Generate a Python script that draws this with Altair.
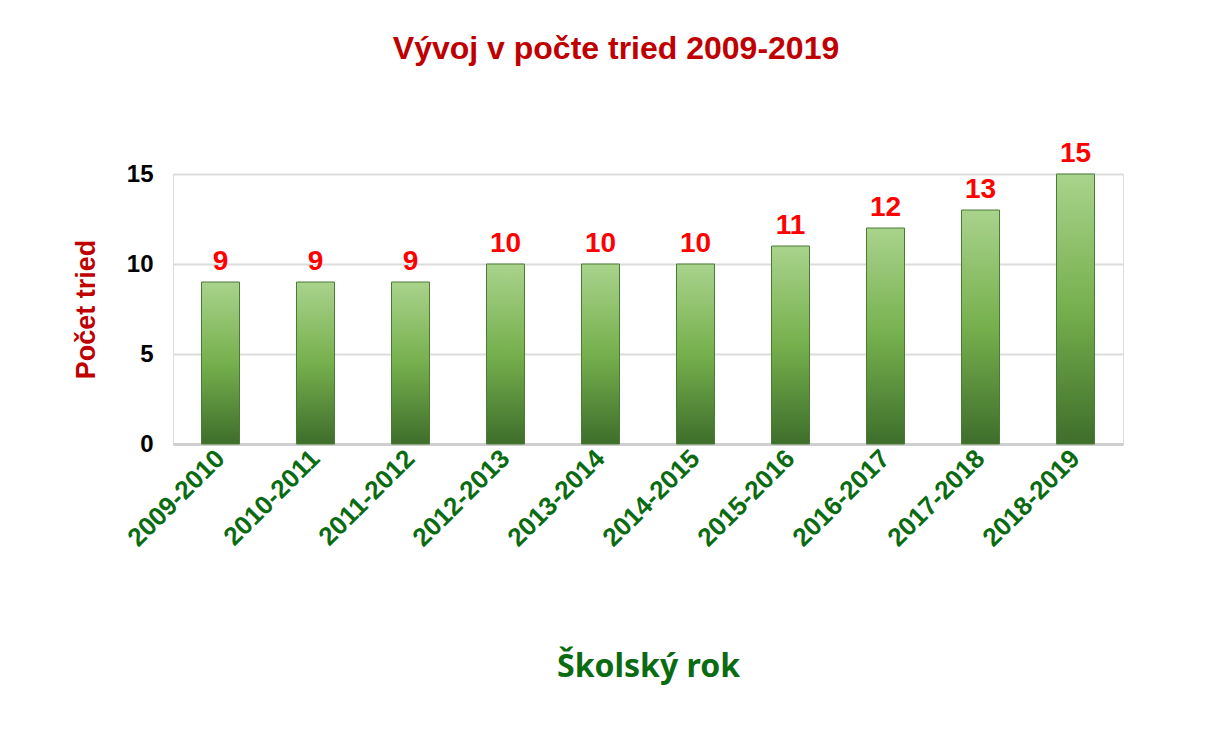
import altair as alt
import pandas as pd

years = ["2009-2010", "2010-2011", "2011-2012", "2012-2013", "2013-2014",
         "2014-2015", "2015-2016", "2016-2017", "2017-2018", "2018-2019"]
classes = [9, 9, 9, 10, 10, 10, 11, 12, 13, 15]
y_ticks = [0, 5, 10, 15]

df = pd.DataFrame({"rok": years, "tried": classes})

gradient = alt.Gradient(
    gradient="linear", x1=0, y1=0, x2=0, y2=1,
    stops=[alt.GradientStop(offset=0, color="#a9d38c"),
           alt.GradientStop(offset=0.5, color="#76b04d"),
           alt.GradientStop(offset=1, color="#3e6e2b")],
)

x_enc = alt.X("rok:N", sort=years, title="Školský rok",
              scale=alt.Scale(paddingInner=0.6, paddingOuter=0.3),
              axis=alt.Axis(labelAngle=-45, labelAlign="right", labelBaseline="middle",
                            labelColor="#0a6b12", labelFontSize=26, labelFontWeight="bold",
                            labelFont="Liberation Sans", labelPadding=10,
                            ticks=False, domain=True, domainColor="#cfcfcf", domainWidth=3,
                            titleColor="#0a6b12", titleFontSize=32, titleFontWeight="bold",
                            titleFont="Noto Sans", titlePadding=100))

y_enc = alt.Y("tried:Q", title="Počet tried",
              scale=alt.Scale(domain=[0, 15], nice=False),
              axis=alt.Axis(values=y_ticks, labelColor="#000000", labelFontSize=24,
                            labelFontWeight="bold", labelFont="Liberation Sans",
                            labelPadding=20, ticks=False, domain=False,
                            gridColor="#dcdcdc", gridWidth=2,
                            titleColor="#c00000", titleFontSize=27, titleFontWeight="bold",
                            titleFont="Liberation Sans", titlePadding=26))

bars = alt.Chart(df).mark_bar(fill=gradient, stroke="#4a7a34", strokeWidth=1).encode(
    x=x_enc, y=y_enc)

labels = alt.Chart(df).mark_text(dy=-20, color="#ff0000", fontSize=28, fontWeight="bold",
                                 font="Liberation Sans").encode(
    x=alt.X("rok:N", sort=years), y="tried:Q", text="tried:Q")

chart = (bars + labels).properties(
    width=950, height=270,
    autosize=alt.AutoSizeParams(type="none"),
    padding={"left": 165, "top": 166, "right": 75, "bottom": 295},
    title=alt.TitleParams("Vývoj v počte tried 2009-2019", color="#c00000", fontSize=32,
                          fontWeight="bold", font="Liberation Sans", anchor="middle",
                          offset=74, dx=-32),
).configure_view(stroke=None).configure(background="white")

chart.save("out.html", embed_options={"renderer": "svg", "actions": False})
